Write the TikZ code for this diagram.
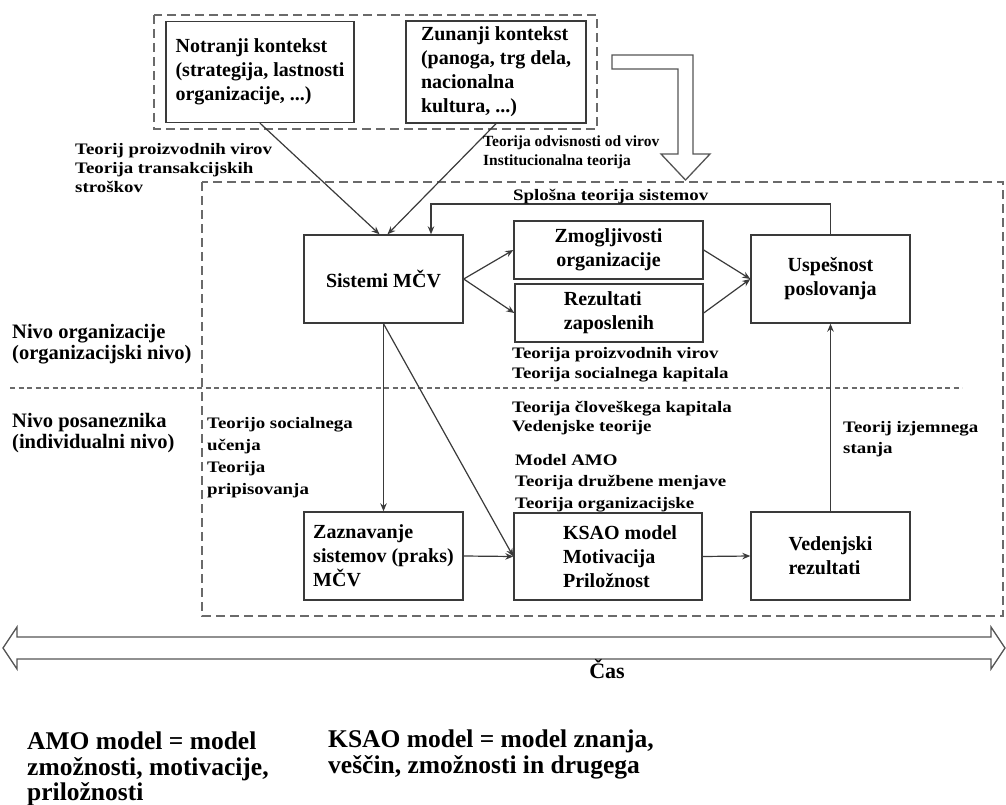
\documentclass[tikz,border=0pt]{standalone}
\usepackage{fontspec}
\setmainfont{Liberation Serif}
\newfontfamily\widefont{Liberation Serif}[FakeStretch=1.18]
\usetikzlibrary{arrows.meta}
\definecolor{linegray}{HTML}{3A3A3A}
\definecolor{dashgray}{HTML}{6A6A6A}
\begin{document}
\begin{tikzpicture}[x=1pt,y=-1pt,
  box/.style={draw=linegray, line width=1.4pt, fill=white, inner sep=0pt,
    font=\fontsize{20}{24}\selectfont\bfseries},
  arr/.style={draw=linegray, line width=1.2pt, -{Stealth[length=8pt,width=6.5pt]}},
  areabox/.style={draw=dashgray, line width=1.6pt, dash pattern=on 9pt off 5pt},
  levelline/.style={draw=dashgray, line width=1.3pt, dash pattern=on 5pt off 3.5pt},
  theory/.style={inner sep=0pt, anchor=north west, align=left,
    font=\widefont\bfseries\fontsize{16}{#1}\selectfont},
  theory/.default=20,
  level/.style={inner sep=0pt, anchor=north west, align=left,
    font=\fontsize{20.5}{21.5}\selectfont\bfseries},
  legend/.style={inner sep=0pt, anchor=north west, align=left,
    font=\fontsize{25.5}{25.5}\selectfont\bfseries},
  hollow/.style={draw=dashgray!80!black, line width=1.3pt, fill=white}
]
\useasboundingbox (0,0) rectangle (1006,805);

% context frame and organisation frame
\draw[areabox] (154,15) rectangle (597,129);
\draw[areabox] (202,182) rectangle (1003,616);
% border between the two levels
\draw[levelline] (10,388) -- (962,388);

% wide arrow from the context into the organisation
\draw[hollow] (612,55) -- (693,55) -- (693,154) -- (710,154) -- (685.5,180)
  -- (661,154) -- (678,154) -- (678,69) -- (612,69) -- cycle;

% boxes
\node[box, minimum width=188pt, minimum height=101pt, align=left] (not) at (260,72)
  {Notranji kontekst\\(strategija, lastnosti\\organizacije, ...)};
\node[box, minimum width=180pt, minimum height=102pt, align=left] (zun) at (496,72)
  {Zunanji kontekst\\(panoga, trg dela,\\nacionalna\\kultura, ...)};
\node[box, minimum width=159pt, minimum height=88pt] (sis) at (383.5,279) {Sistemi MČV};
\node[box, minimum width=189pt, minimum height=58pt, align=center] (zmo) at (608.5,250)
  {Zmogljivosti\\organizacije};
\node[box, minimum width=188pt, minimum height=58pt, align=left] (rez) at (609,313)
  {Rezultati\\zaposlenih};
\node[box, minimum width=159pt, minimum height=88pt, align=center] (usp) at (830.5,279)
  {Uspešnost\\poslovanja};
\node[box, minimum width=159pt, minimum height=88pt, align=left] (zaz) at (383.5,556)
  {Zaznavanje\\sistemov (praks)\\MČV};
\node[box, minimum width=188pt, minimum height=87pt, align=left] (ksao) at (608,556.5)
  {\hspace*{24pt}KSAO model\\\hspace*{24pt}Motivacija\\\hspace*{24pt}Priložnost};
\node[box, minimum width=159pt, minimum height=88pt, align=left] (ved) at (830.5,556)
  {Vedenjski\\rezultati};

% connectors
\coordinate (fb) at (431,204);
\draw[arr] (not.south) -- ([xshift=-4pt]sis.north);
\draw[arr] (zun.south) -- ([xshift=4pt]sis.north);
\draw[arr] (usp.north) |- (fb) -- (fb |- sis.north);
\draw[arr] (sis.east) -- (zmo.west);
\draw[arr] (sis.east) -- (rez.west);
\draw[arr] (zmo.east) -- (usp.west);
\draw[arr] (rez.east) -- (usp.west);
\draw[arr] (sis.south) -- (zaz.north);
\draw[arr] (sis.south) -- (ksao.west);
\draw[arr] (zaz.east) -- (ksao.west);
\draw[arr] (ksao.east) -- (ved.west);
\draw[arr] (ved.north) -- (usp.south);

% theories along the links
\node[theory=19] (t1) at (75,143) {Teorij proizvodnih virov\\Teorija transakcijskih\\stroškov};
\node[inner sep=0pt, anchor=north west, align=left,
  font=\fontsize{15.5}{19}\selectfont\bfseries] (t2) at (483,136)
  {Teorija odvisnosti od virov\\Institucionalna teorija};
\node[theory] (t3) at (513,189) {Splošna teorija sistemov};
\node[theory=20] (t4) at (512,347) {Teorija proizvodnih virov\\Teorija socialnega kapitala};
\node[theory=19.5] (t5) at (512,401) {Teorija človeškega kapitala\\Vedenjske teorije};
\node[theory=21.5] (t6) at (515,454) {Model AMO\\Teorija družbene menjave\\Teorija organizacijske};
\node[theory=22] (t7) at (207,417) {Teorijo socialnega\\učenja\\Teorija\\pripisovanja};
\node[theory=21] (t8) at (843,421) {Teorij izjemnega\\stanja};

% levels
\node[level] (lv1) at (12,324) {Nivo organizacije\\(organizacijski nivo)};
\node[level] (lv2) at (12,413) {Nivo posaneznika\\(individualni nivo)};

% time axis
\draw[hollow] (3,648) -- (17,627) -- (17,637) -- (991,637) -- (991,627) -- (1005,648)
  -- (991,669) -- (991,659) -- (17,659) -- (17,669) -- cycle;
\node[inner sep=0pt, font=\fontsize{22}{24}\selectfont\bfseries] (cas) at (607,669) {Čas};

% abbreviations
\node[legend] (lg1) at (27,732) {AMO model = model\\zmožnosti, motivacije,\\priložnosti};
\node[legend] (lg2) at (328,730) {KSAO model = model znanja,\\veščin, zmožnosti in drugega};
\end{tikzpicture}
\end{document}
